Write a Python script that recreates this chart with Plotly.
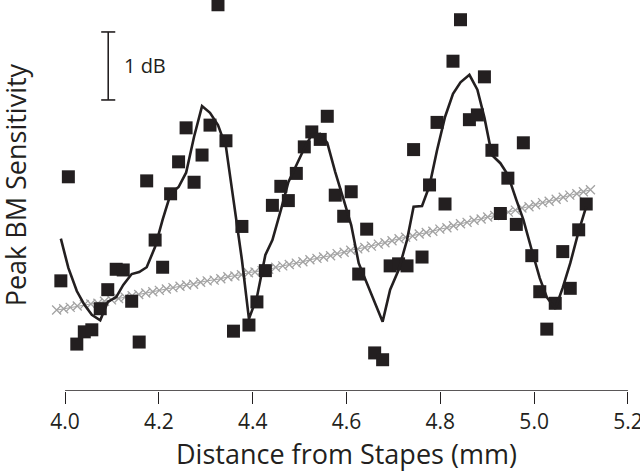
import plotly.graph_objects as go

# Measured squares: distance from stapes (mm) and peak BM sensitivity (dB, relative)
meas_x = [3.991, 4.007, 4.025, 4.041, 4.057, 4.075, 4.091, 4.109, 4.124, 4.142,
          4.158, 4.174, 4.192, 4.208, 4.225, 4.242, 4.258, 4.275, 4.292, 4.309,
          4.326, 4.343, 4.359, 4.377, 4.392, 4.409, 4.427, 4.442, 4.460, 4.476,
          4.493, 4.510, 4.526, 4.544, 4.559, 4.576, 4.594, 4.610, 4.626, 4.643,
          4.660, 4.677, 4.693, 4.711, 4.729, 4.743, 4.761, 4.777, 4.793, 4.810,
          4.827, 4.843, 4.862, 4.879, 4.894, 4.910, 4.928, 4.944, 4.962, 4.977,
          4.995, 5.012, 5.027, 5.045, 5.061, 5.077, 5.095, 5.111]
meas_y = [1.62, 3.15, 0.69, 0.87, 0.90, 1.21, 1.49, 1.79, 1.78, 1.32,
          0.72, 3.09, 2.22, 1.82, 2.90, 3.37, 3.87, 3.07, 3.47, 3.91,
          5.68, 3.68, 0.88, 2.42, 0.97, 1.31, 1.77, 2.73, 3.01, 2.80,
          3.20, 3.59, 3.81, 3.70, 4.04, 2.88, 2.57, 2.93, 1.72, 2.38,
          0.56, 0.46, 1.84, 1.87, 1.84, 3.55, 1.97, 3.03, 3.95, 2.75,
          4.85, 5.46, 3.99, 4.06, 4.62, 3.54, 2.61, 3.13, 2.45, 3.65,
          1.99, 1.46, 0.91, 1.29, 2.05, 1.51, 2.37, 2.75]

# Smoothed curve (black line)
fit_y = [2.24, 1.81, 1.47, 1.27, 1.12, 1.04, 1.31, 1.38, 1.56, 1.72,
         1.75, 1.82, 2.12, 2.52, 2.90, 3.00, 3.21, 3.74, 4.19, 4.09,
         3.91, 3.59, 2.81, 1.93, 1.06, 1.38, 2.00, 2.22, 2.66, 3.07,
         3.32, 3.57, 3.77, 3.78, 3.65, 3.22, 2.81, 2.44, 1.88, 1.59,
         1.31, 1.02, 1.49, 1.78, 2.22, 2.71, 2.72, 3.02, 3.54, 4.03,
         4.37, 4.54, 4.65, 4.43, 4.02, 3.47, 3.35, 3.18, 2.81, 2.52,
         2.07, 1.66, 1.38, 1.21, 1.52, 1.88, 2.35, 2.71]

# Model trend (grey crosses)
model_x = [3.982, 3.997, 4.011, 4.026, 4.041, 4.055, 4.070, 4.084, 4.099, 4.114,
           4.128, 4.143, 4.157, 4.172, 4.187, 4.201, 4.216, 4.230, 4.245, 4.259,
           4.274, 4.289, 4.303, 4.318, 4.332, 4.347, 4.362, 4.376, 4.391, 4.405,
           4.420, 4.434, 4.449, 4.464, 4.478, 4.493, 4.507, 4.522, 4.537, 4.551,
           4.566, 4.580, 4.595, 4.609, 4.624, 4.639, 4.653, 4.668, 4.682, 4.697,
           4.712, 4.726, 4.741, 4.755, 4.770, 4.784, 4.799, 4.814, 4.828, 4.843,
           4.857, 4.872, 4.887, 4.901, 4.916, 4.930, 4.945, 4.960, 4.974, 4.989,
           5.003, 5.018, 5.032, 5.047, 5.062, 5.076, 5.091, 5.105, 5.120]
model_y = [1.19, 1.21, 1.23, 1.25, 1.27, 1.28, 1.29, 1.32, 1.34, 1.36,
           1.38, 1.40, 1.42, 1.44, 1.46, 1.48, 1.50, 1.52, 1.54, 1.56,
           1.57, 1.60, 1.62, 1.63, 1.65, 1.68, 1.69, 1.71, 1.74, 1.75,
           1.77, 1.79, 1.82, 1.84, 1.86, 1.88, 1.90, 1.93, 1.95, 1.97,
           1.99, 2.02, 2.04, 2.07, 2.09, 2.11, 2.13, 2.16, 2.18, 2.21,
           2.24, 2.26, 2.28, 2.31, 2.33, 2.35, 2.38, 2.40, 2.43, 2.46,
           2.48, 2.51, 2.53, 2.56, 2.58, 2.61, 2.63, 2.66, 2.69, 2.71,
           2.74, 2.77, 2.79, 2.82, 2.85, 2.88, 2.90, 2.93, 2.96]

x_ticks = [4.0, 4.2, 4.4, 4.6, 4.8, 5.0, 5.2]
x_tick_text = ["4.0", "4.2", "4.4", "4.6", "4.8", "5.0", "5.2"]

scale_bar_x = 4.092
scale_bar_bottom = 4.28
scale_bar_db = 1.0

INK = "#231f20"
FONT = "Open Sans"

fig = go.Figure()
fig.add_trace(go.Scatter(
    x=model_x, y=model_y, mode="lines+markers",
    line=dict(color="#a3a3a3", width=1),
    marker=dict(symbol="x-thin-open", size=9, line=dict(color="#9a9a9a", width=1.3)),
    showlegend=False, hoverinfo="skip"))
fig.add_trace(go.Scatter(
    x=meas_x, y=meas_y, mode="markers",
    marker=dict(symbol="square", size=13, color=INK, line=dict(width=0)),
    cliponaxis=False, showlegend=False))
fig.add_trace(go.Scatter(
    x=meas_x, y=fit_y, mode="lines",
    line=dict(color=INK, width=2.6),
    showlegend=False))

# x-axis line from 4.0 to 5.2
fig.add_shape(type="line", xref="x", yref="y", x0=x_ticks[0], x1=x_ticks[-1], y0=0, y1=0,
              line=dict(color=INK, width=1.4))
# 1 dB scale bar
cap = 0.015
top = scale_bar_bottom + scale_bar_db
fig.add_shape(type="line", xref="x", yref="y", x0=scale_bar_x, x1=scale_bar_x,
              y0=scale_bar_bottom, y1=top, line=dict(color=INK, width=1.6))
for yy in (scale_bar_bottom, top):
    fig.add_shape(type="line", xref="x", yref="y", x0=scale_bar_x - cap, x1=scale_bar_x + cap,
                  y0=yy, y1=yy, line=dict(color=INK, width=1.6))
fig.add_annotation(x=scale_bar_x + 0.030, y=scale_bar_bottom + scale_bar_db / 2,
                   xref="x", yref="y", text="1 dB", showarrow=False, xanchor="left",
                   font=dict(family=FONT, size=20, color=INK))
fig.add_annotation(x=-0.060, y=0.527, xref="paper", yref="paper", text="Peak BM Sensitivity",
                   textangle=-90, showarrow=False, xanchor="center", yanchor="middle",
                   borderpad=0, font=dict(family=FONT, size=27, color=INK))
fig.add_annotation(x=(4.6 - 3.97) / 1.2301, y=-0.160, xref="paper", yref="paper",
                   text="Distance from Stapes (mm)", showarrow=False,
                   xanchor="center", yanchor="middle", borderpad=0,
                   font=dict(family=FONT, size=27, color=INK))

fig.update_layout(
    width=640, height=472,
    margin=dict(l=51, r=12, t=0, b=81, autoexpand=False),
    plot_bgcolor="white", paper_bgcolor="white",
    font=dict(family=FONT, color=INK),
    xaxis=dict(range=[3.97, 5.2001], showgrid=False, zeroline=False, showline=False,
               automargin=False, ticklabeloverflow="allow",
               tickmode="array", tickvals=x_ticks, ticktext=x_tick_text,
               ticks="outside", ticklen=12, tickwidth=1.4, tickcolor=INK,
               tickfont=dict(family=FONT, size=21, color=INK)),
    yaxis=dict(range=[0, 5.75], showgrid=False, zeroline=False, showline=False,
               automargin=False, showticklabels=False, ticks=""),
)

fig.write_html("out.html", config={"displayModeBar": False},
               post_script="document.body.style.margin='0';document.body.style.padding='0';")
